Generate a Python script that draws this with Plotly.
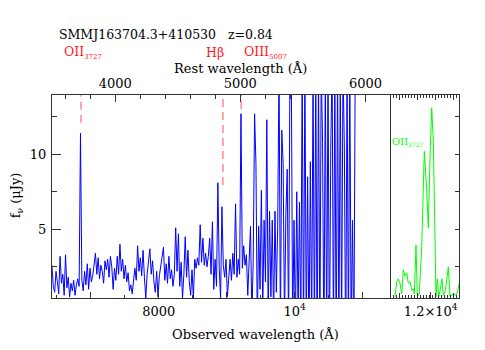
import numpy as np
import plotly.graph_objects as go

# source and redshift
name = "SMMJ163704.3+410530"
z = 0.84

# observed-frame spectrum, sampled every 20 A from 6430 A (fluxes in uJy)
wave_start = 6430
wave_step = 20
flux = [
    2.6, 1.2, 0.8, 2.2, 1.5, 0.7, 3.2, 1.4, 2.0, 0.6,
    3.3, 1.1, 1.8, 0.5, 1.4, 0.9, 1.6, 0.6, 1.3, 1.7,
    1.2, 11.4, 1.6, 0.9, 2.2, 1.3, 2.7, 1.0, 2.4, 1.5,
    1.9, 2.8, 3.4, 2.0, 3.1, 1.7, 2.6, 2.2, 1.4, 2.9,
    2.3, 3.0, 1.8, 3.2, 2.5, 1.0, 2.4, 1.6, 3.2, 2.0,
    4.0, 2.2, 3.0, 1.7, 2.6, 1.5, 2.1, 0.9, 1.3, 0.7,
    1.8, 2.4, 1.6, 3.9, 2.2, 3.1, 1.9, 3.6, 1.8, 0.4,
    2.0, 2.8, 3.7, 2.0, 2.9, 1.5, 0.8, 2.2, 0.5, 1.9,
    2.5, 3.0, 3.8, 1.6, 2.7, 1.4, 3.2, 1.7, 2.3, 1.2,
    2.0, 5.1, 2.2, 4.7, 1.2, 2.8, 0.4, 2.0, 4.5, 1.8,
    3.6, 1.5, 0.6, 2.3, 0.4, 3.0, 2.4, 3.1, 2.6, 5.3,
    2.8, 4.4, 2.6, 3.4, 2.5, 3.2, 4.4, 2.0, 5.5, 1.0,
    3.0, 1.2, 8.1, 2.4, 0.4, 6.5, 2.6, 1.8, 3.0, 0.5,
    2.2, 3.0, 1.6, 3.4, 2.0, 6.7, 1.8, 3.0, 2.0, 12.7,
    2.4, 3.9, 2.6, 3.3, 0.6, 2.5, 5.2, -1.0, 3.0, 12.7,
    9.4, -1.5, 5.2, 1.0, 7.6, -0.5, 5.6, 1.5, 12.3, -1.0,
    6.2, 0.5, 5.6, -1.0, 6.2, 0.8, 5.2, 16.0, -2.0, 11.6,
    9.4, -1.5, 6.0, 9.0, -2.0, 16.0, 16.0, -2.0, 5.6, -2.0,
    7.5, -1.0, 6.8, -2.0, 16.0, -3.0, 16.0, -2.0, 8.5, -3.0,
    9.5, -2.0, 16.0, -3.0, 16.0, -4.0, 16.0, -3.0, 16.0, 10.7,
    -4.0, 16.0, -3.0, 16.0, -4.0, 10.4, 16.0, -3.0, 16.0, -4.0,
    16.0, -3.0, 16.0, -2.0, 16.0, 10.5, -4.0, 16.0, -3.0, 16.0,
    -2.0, 5.6, -3.0, 16.0,
]
wave = wave_start + wave_step * np.arange(len(flux))

# zoom on the [OII] line (inset panel)
inset_wave = [6827, 6828.7, 6830.3, 6832, 6833.7, 6835.3, 6837, 6838.7, 6840.3,
              6842, 6843.7, 6845.3, 6846.3, 6848, 6849.3, 6851.3, 6853.7, 6855.3,
              6856.3, 6858.7, 6860.3, 6862, 6863.7, 6865.3, 6867, 6868, 6869.3,
              6870.7, 6872, 6874, 6875.3, 6877.3, 6878.7, 6880.3, 6882, 6885.3,
              6888, 6889.7, 6891]
inset_flux = [0.5, 1.5, 1.7, 1.4, 0.7, 2.3, 1.85, 2.1, 1.4,
              1.5, 0.95, 1.05, 0.7, 3.95, 0.5, 0.7, 3.85, 6.95,
              10.2, 7.6, 5.1, 9.8, 13.1, 10.9, 2.7, 0.5, 1.7,
              0.5, 0.9, 1.7, 0.6, 0.9, 1.6, 2.5, 0.5, 0.7,
              0.6, 0.9, 1.35]

# emission lines (rest wavelength) and how far down the dashed markers go
line_rest = [3727, 4861, 5007]
line_ymin = [12.1, 7.95, 13.0]
line_labels = ["OII<sub><span style='font-size:7px'>3727</span></sub>",
               "H\u03b2",
               "OIII<sub><span style='font-size:7px'>5007</span></sub>"]
label_rest = [3575, 4710, 5014]

xmin, xmax = 6431, 12416
ymin, ymax = 0.42, 13.95
split = 0.833
rest_max = (xmin + split * (xmax - xmin)) / (1 + z)

axcol = "#333333"
fig = go.Figure()

fig.add_trace(go.Scatter(x=wave, y=flux, mode="lines", xaxis="x", yaxis="y",
                         line=dict(color="#0000ff", width=1), hoverinfo="skip"))

for lr, ym in zip(line_rest, line_ymin):
    fig.add_trace(go.Scatter(x=[lr, lr], y=[ym, 15], mode="lines", xaxis="x2", yaxis="y",
                             line=dict(color="rgba(255,60,60,0.6)", width=1.5, dash="8px,5px"),
                             hoverinfo="skip"))

fig.add_trace(go.Scatter(x=inset_wave, y=inset_flux, mode="lines", xaxis="x3", yaxis="y2",
                         line=dict(color="#00ff00", width=1), hoverinfo="skip"))

# the page body has an 8px margin, so the figure is 8px smaller and shifted
fig.update_layout(
    width=477, height=342,
    margin=dict(l=44, r=26, t=87, b=52),
    paper_bgcolor="white", plot_bgcolor="rgba(0,0,0,0)",
    showlegend=False,
    font=dict(family="DejaVu Serif", size=13, color="black"),
    xaxis=dict(domain=[0, 1], anchor="y", range=[xmin, xmax],
               tickvals=[7000, 8000, 9000, 10000, 11000, 12000],
               ticktext=["", "8000", "", "10<sup>4</sup>", "", "1.2\u00d710<sup>4</sup>"],
               ticks="inside", ticklen=6, tickcolor=axcol,
               minor=dict(dtick=500, ticks="inside", ticklen=3, tickcolor=axcol),
               ticklabelstandoff=1, automargin=False,
               showline=True, linecolor=axcol, linewidth=1, mirror=False,
               showgrid=False, zeroline=False),
    xaxis2=dict(domain=[0, split], anchor="y", side="top", range=[xmin / (1 + z), rest_max],
                tickvals=[4000, 5000, 6000],
                ticks="inside", ticklen=7, tickcolor=axcol,
                minor=dict(dtick=200, tick0=4000, ticks="inside", ticklen=4, tickcolor=axcol),
                ticklabelstandoff=1, automargin=False,
                showline=True, linecolor=axcol, linewidth=1,
                showgrid=False, zeroline=False),
    xaxis3=dict(domain=[split, 1], anchor="y2", range=[6823, 6891],
                tick0=6831, dtick=18, ticks="inside", ticklen=5, tickcolor=axcol,
                minor=dict(dtick=3, ticks="inside", ticklen=3, tickcolor=axcol),
                showticklabels=False, showline=True, linecolor=axcol, mirror="ticks",
                showgrid=False, zeroline=False, automargin=False),
    yaxis=dict(domain=[0, 1], anchor="x", range=[ymin, ymax],
               tick0=0, dtick=5, ticks="inside", ticklen=9, tickcolor=axcol,
               minor=dict(dtick=2.5, ticks="inside", ticklen=5, tickcolor=axcol),
               ticklabelstandoff=2, automargin=False,
               showline=True, linecolor=axcol, linewidth=1, mirror=False,
               showgrid=False, zeroline=False),
    yaxis2=dict(domain=[0, 1], anchor="x3", side="right", range=[ymin, ymax],
                tick0=0, dtick=2.5, ticks="inside", ticklen=4, tickcolor=axcol,
                showticklabels=False, showline=True, linecolor=axcol, mirror=True,
                showgrid=False, zeroline=False, automargin=False),
)

annots = [
    dict(text=name + "\u00a0\u00a0\u00a0z=" + str(z), x=5 / 407, y=1.2956,
         xanchor="left", yanchor="middle", font=dict(size=12.5)),
    dict(text="Rest wavelength (\u00c5)", x=0.462, y=1.133,
         xanchor="center", yanchor="middle"),
    dict(text="Observed wavelength (\u00c5)", x=0.499, y=-0.182,
         xanchor="center", yanchor="middle"),
    dict(text="f<sub>\u03bd</sub> (\u03bcJy)", x=-0.088, y=0.507, textangle=-90,
         xanchor="center", yanchor="middle"),
    dict(text="OII<sub><span style='font-size:6px'>3727</span></sub>", x=split - 0.002, y=0.77,
         xanchor="left", yanchor="middle", font=dict(size=10, color="#00ff00")),
]
for lab, lx in zip(line_labels, label_rest):
    annots.append(dict(text=lab, x=lx, xref="x2", y=1.21, yref="paper",
                       xanchor="left", yanchor="middle", font=dict(size=12.5, color="#ff1a1a")))
for a in annots:
    a.setdefault("xref", "paper")
    a.setdefault("yref", "paper")
    a["showarrow"] = False
fig.update_layout(annotations=annots)

fig.write_html("out.html")
